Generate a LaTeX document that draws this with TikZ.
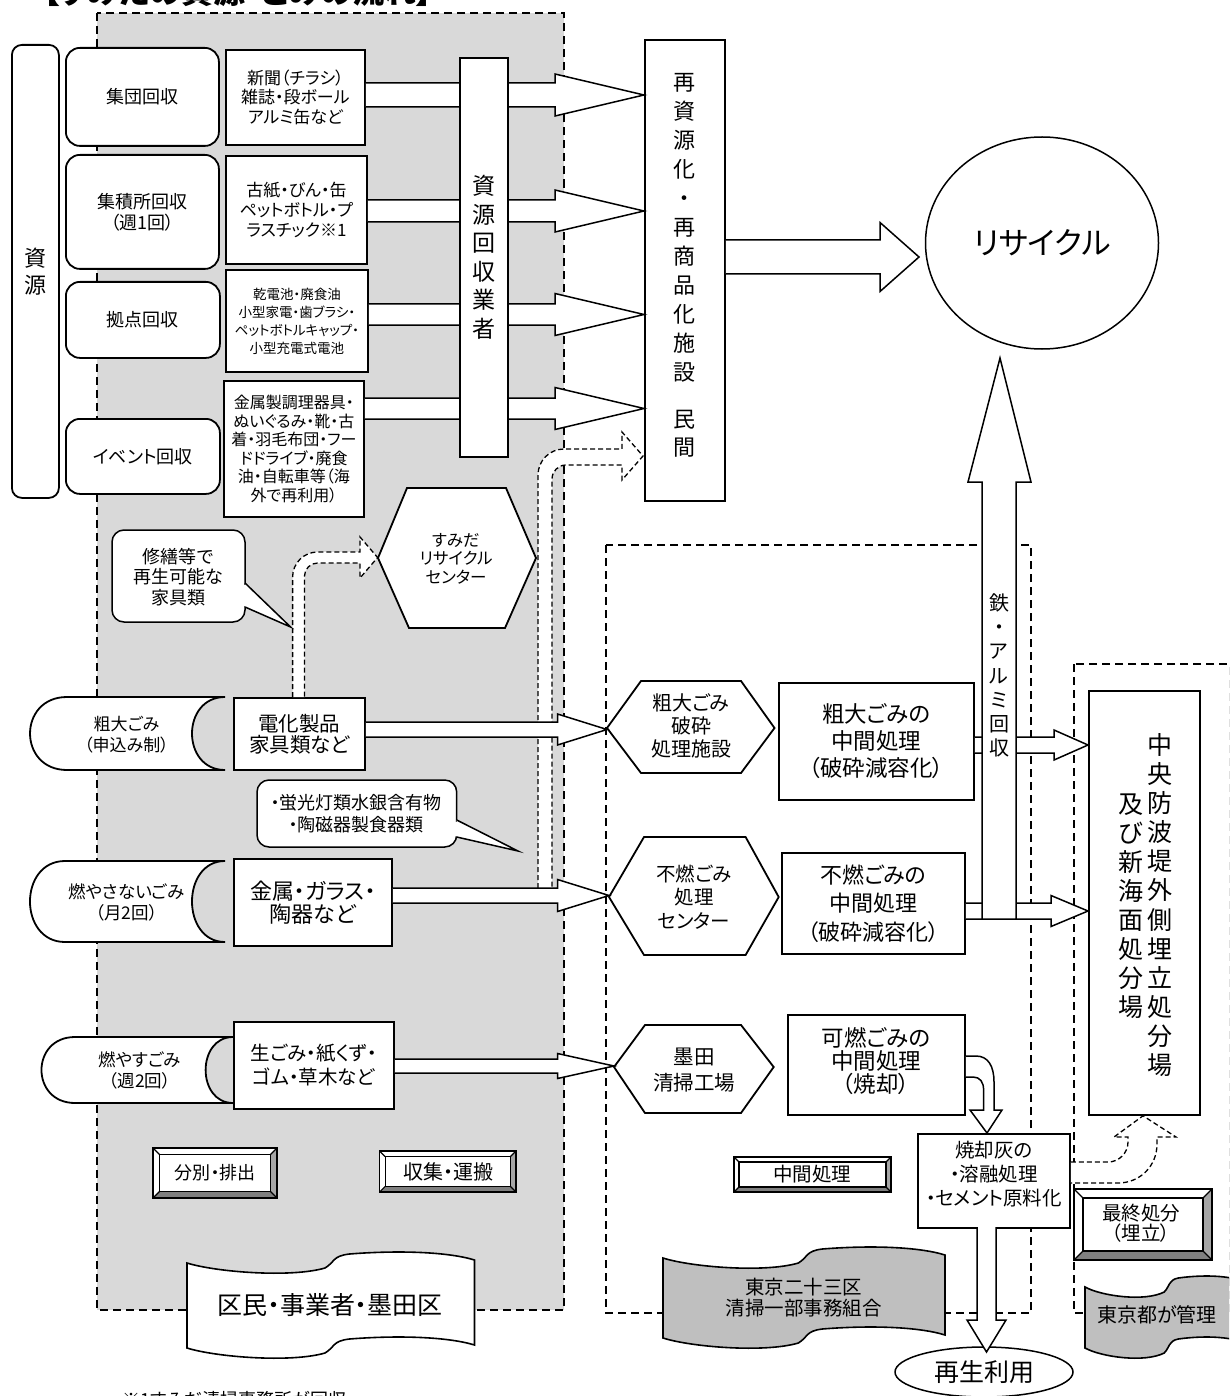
\documentclass[tikz,border=0pt]{standalone}
\usepackage{fontspec}
\setmainfont{Noto Sans CJK JP}[RawFeature=+palt]
\usetikzlibrary{shapes.geometric,calc}
\definecolor{regiongray}{HTML}{D9D9D9}
\definecolor{bannergray}{HTML}{BFBFBF}
\definecolor{bevdark}{HTML}{7F7F7F}
\definecolor{bevmid}{HTML}{A6A6A6}
\newcommand{\jfs}[2]{\fontsize{#1}{#2}\selectfont}
% block arrow to the right: #1 start anchor, #2 tip anchor, #3 shaft top y, #4 shaft bottom y, #5 head base x, #6 head half height
\newcommand{\blockR}[6]{%
  \pgfmathsetmacro{\bkmid}{(#3+#4)/2}%
  \pgfmathsetmacro{\bktop}{\bkmid-#6}%
  \pgfmathsetmacro{\bkbot}{\bkmid+#6}%
  \draw[harrow] (#1 |- 0,#3) -- (#5,#3) -- (#5,\bktop) -- (#2 |- 0,\bkmid) -- (#5,\bkbot) -- (#5,#4) -- (#1 |- 0,#4);%
}
\newcommand{\bevelbtn}[5]{%
  \pgfmathsetmacro{\bvA}{#1+#5}\pgfmathsetmacro{\bvB}{#2+#5}%
  \pgfmathsetmacro{\bvC}{#3-#5}\pgfmathsetmacro{\bvD}{#4-#5}%
  \fill[white] (#1,#2) rectangle (#3,#4);
  \fill[bevmid] (#3,#2) -- (\bvC,\bvB) -- (\bvC,\bvD) -- (#3,#4) -- cycle;
  \fill[bevdark] (#1,#4) -- (\bvA,\bvD) -- (\bvC,\bvD) -- (#3,#4) -- cycle;
  \draw[btnline] (#1,#2) rectangle (#3,#4);
  \draw[btnline] (\bvA,\bvB) rectangle (\bvC,\bvD);
  \draw[btnline] (#1,#2) -- (\bvA,\bvB) (#3,#2) -- (\bvC,\bvB) (#1,#4) -- (\bvA,\bvD) (#3,#4) -- (\bvC,\bvD);
}
\newcommand{\wavebanner}[5]{%
  \begin{scope}[shift={(#1,#2)}, xscale=#3/100]
  \draw[line width=1.6pt, fill=#5] (0,0) .. controls (10,9) and (36,15) .. (48,5) .. controls (51.5,-1) and (50.5,-7) .. (56.5,-9) .. controls (74,-13) and (91,-11) .. (100,-3) -- (100,#4-3) .. controls (91,#4-11) and (74,#4-13) .. (56.5,#4-9) .. controls (50.5,#4-7) and (51.5,#4-1) .. (48,#4+5) .. controls (36,#4+15) and (10,#4+9) .. (0,#4) -- cycle;
  \end{scope}%
}
\begin{document}
\begin{tikzpicture}[x=1pt,y=-1pt,
  boxln/.style={draw=black, line width=1.8pt, fill=white, inner sep=0pt, align=center},
  rbox/.style={boxln, rounded corners=14pt},
  harrow/.style={draw=black, line width=1.5pt, fill=white, line join=miter},
  dhollow/.style={draw=black, line width=1.3pt, fill=white, dash pattern=on 5pt off 3pt},
  regionln/.style={draw=black, line width=2pt, dash pattern=on 8pt off 5pt},
  shapeln/.style={draw=black, line width=1.8pt, fill=white},
  txt/.style={inner sep=0pt, align=center},
  btnline/.style={draw=black, line width=1.2pt},
]
\useasboundingbox (0,0) rectangle (1229,1396);
\clip (0,0) rectangle (1229,1396);

% ---------- regions ----------
\fill[regiongray] (97,13) rectangle (563.5,1310);
\draw[regionln] (97,13) rectangle (563.5,1310);
\draw[regionln] (606,545) rectangle (1031,1313);
\draw[regionln] (1074,664) rectangle (1229.5,1313);

% ---------- title / note ----------
\node[txt, font=\bfseries\jfs{32}{32}, anchor=west] (title) at (43,-9) {【すみだの資源・ごみの流れ】};
\node[txt, font=\jfs{18}{18}, anchor=west] (note) at (122.6,1400) {※1すみだ清掃事務所が回収};

% ---------- left column ----------
\node[boxln, rounded corners=10pt, minimum width=47, minimum height=453, anchor=north west, font=\jfs{22}{27}] (shigen) at (11,44) {資\\源};
\node[rbox, minimum width=153, minimum height=98, anchor=north west, font=\jfs{18}{22}] (r1) at (65,47) {集団回収};
\node[rbox, minimum width=153, minimum height=114, anchor=north west, font=\jfs{18}{21}] (r2) at (65,154) {集積所回収\\（週1回）};
\node[rbox, minimum width=154, minimum height=76, anchor=north west, font=\jfs{18}{22}] (r3) at (65,281) {拠点回収};
\node[rbox, minimum width=154, minimum height=75, anchor=north west, font=\jfs{18}{22}] (r4) at (65,418) {イベント回収};

\node[boxln, minimum width=139, minimum height=95, anchor=north west, font=\jfs{17}{19.5}] (i1) at (225,49) {新聞（チラシ）\\雑誌・段ボール\\アルミ缶など};
\node[boxln, minimum width=141, minimum height=108, anchor=north west, font=\jfs{17}{20}] (i2) at (225,155) {古紙・びん・缶\\ペットボトル・プ\\ラスチック※1};
\node[boxln, minimum width=142, minimum height=102, anchor=north west, font=\jfs{13.5}{18}] (i3) at (225,269) {乾電池・廃食油\\小型家電・歯ブラシ・\\ペットボトルキャップ・\\小型充電式電池};
\node[boxln, minimum width=140, minimum height=136, anchor=north west, font=\jfs{16}{18.5}] (i4) at (223,380) {金属製調理器具・\\ぬいぐるみ・靴・古\\着・羽毛布団・フー\\ドドライブ・廃食\\油・自転車等（海\\外で再利用）};

% ---------- stored data shapes ----------
\draw[shapeln] (67,697) -- (225,697) .. controls (181,697) and (181,770) .. (225,770) -- (67,770) .. controls (17.7,770) and (17.7,697) .. (67,697) -- cycle;
\node[txt, font=\jfs{17}{21}] (sd1) at (126.5,734.5) {粗大ごみ\\（申込み制）};
\draw[shapeln] (65,861) -- (225,861) .. controls (181,861) and (181,942) .. (225,942) -- (65,942) .. controls (18.3,942) and (18.3,861) .. (65,861) -- cycle;
\node[txt, font=\jfs{17.5}{21}] (sd2) at (126.5,902.5) {燃やさないごみ\\（月2回）};
\draw[shapeln] (75,1037) -- (233,1037) .. controls (196.5,1037) and (196.5,1103) .. (233,1103) -- (75,1103) .. controls (30.3,1103) and (30.3,1037) .. (75,1037) -- cycle;
\node[txt, font=\jfs{17.5}{21}] (sd3) at (140,1070) {燃やすごみ\\（週2回）};

\node[boxln, minimum width=131, minimum height=72, anchor=north west, font=\jfs{20.5}{21}] (e1) at (233,697) {電化製品\\家具類など};
\node[boxln, minimum width=158, minimum height=87, anchor=north west, font=\jfs{22}{23.5}] (e2) at (233,858) {金属・ガラス・\\陶器など};
\node[boxln, minimum width=160, minimum height=87, anchor=north west, font=\jfs{19.5}{24}] (e3) at (233,1021) {生ごみ・紙くず・\\ゴム・草木など};

% ---------- dashed hollow arrows ----------
\draw[dhollow] (e1.north -| 292.6,0) -- (292.6,577) .. controls (292.6,563.2) and (303.8,552) .. (317.6,552) -- (360,552) -- (360,537) -- (377.6,557.5) -- (360,578) -- (360,563) -- (317.6,563) .. controls (310.5,563) and (304.5,568.8) .. (304.5,575.9) -- (e1.north -| 304.5,0);
\draw[dhollow] (538,888) -- (538,475) .. controls (538,460.6) and (549.6,449) .. (564,449) -- (622,449) -- (622,432) -- (643,456) -- (622,480) -- (622,465) -- (566,465) .. controls (558.3,465) and (552,471.3) .. (552,479) -- (552,888);

% ---------- callouts ----------
\draw[shapeln, line width=1.5pt, rounded corners=12pt] (112,530) rectangle (245,622);
\fill[white] (243,584.5) rectangle (247,605.5);
\draw[line width=1.5pt, fill=white] (245,583) -- (290.6,627) -- (245,607);
\node[txt, font=\jfs{18}{20.5}] (co1) at (178,577) {修繕等で\\再生可能な\\家具類};
\draw[shapeln, line width=1.5pt, rounded corners=12pt] (257,780) rectangle (456.7,847);
\fill[white] (455,821.5) rectangle (459,835.5);
\draw[line width=1.5pt, fill=white] (456.7,820) -- (518,851) -- (456.7,837);
\node[txt, font=\jfs{18}{22}] (co2) at (356,814) {・蛍光灯類水銀含有物\\・陶磁器製食器類};

% ---------- recycling facility ----------
\node[boxln, minimum width=80, minimum height=461, anchor=north west] (saishigen) at (644,39) {};
\node[txt, font=\jfs{22}{29}] (ssTxt1) at (684,228) {再\\資\\源\\化\\・\\再\\商\\品\\化\\施\\設};
\node[txt, font=\jfs{22}{28}] (ssTxt2) at (684,434) {民\\間};

\blockR{i1.east}{saishigen.west}{83}{107}{555}{21}
\blockR{i2.east}{saishigen.west}{200}{222}{555}{21}
\blockR{i3.east}{saishigen.west}{304}{325}{555}{21}
\blockR{i4.east}{saishigen.west}{398}{419}{555}{21}

\node[boxln, minimum width=48, minimum height=399, anchor=north west, font=\jfs{23}{28.5}] (gyosha) at (459,57) {資\\源\\回\\収\\業\\者};

\node[draw=black, line width=1.5pt, ellipse, minimum width=233, minimum height=212, inner sep=0pt, font=\jfs{31}{31}] (recycle) at (1042,243) {リサイクル};
\coordinate (rcin) at (919,257);
\blockR{saishigen.east}{rcin}{240}{274}{880}{34.5}

% ---------- hexagons ----------
\draw[shapeln] (378,558) -- (407,488) -- (506,488) -- (536,558) -- (505,628) -- (409,628) -- cycle;
\node[txt, font=\jfs{16.5}{18.5}] (sumida) at (456,558.5) {すみだ\\リサイクル\\センター};

\draw[shapeln] (607,728) -- (641,681) -- (741,681) -- (774.5,728) -- (741,773) -- (641,773) -- cycle;
\coordinate (hx1w) at (607,728);
\node[txt, font=\jfs{20}{23}] (hx1) at (691,726) {粗大ごみ\\破砕\\処理施設};
\draw[shapeln] (609,897) -- (644,837) -- (745.6,837) -- (778.7,897) -- (745.6,955) -- (644,955) -- cycle;
\coordinate (hx2w) at (609,897);
\node[txt, font=\jfs{19.5}{23.5}] (hx2) at (694,897) {不燃ごみ\\処理\\センター};
\draw[shapeln] (614,1067) -- (645,1025) -- (741,1025) -- (773.7,1067) -- (741,1113) -- (645,1113) -- cycle;
\coordinate (hx3w) at (614,1067);
\node[txt, font=\jfs{20.5}{26}] (hx3) at (694,1070) {墨田\\清掃工場};

\blockR{e1.east}{hx1w}{722}{737}{557.5}{15.5}
\blockR{e2.east}{hx2w}{888}{903}{557.5}{16}
\blockR{e3.east}{hx3w}{1059}{1073}{557.5}{12.5}

% ---------- intermediate processing ----------
\node[boxln, minimum width=195, minimum height=117, anchor=north west, font=\jfs{22.5}{27}] (m1) at (778,682) {粗大ごみの\\中間処理\\（破砕減容化）};
\node[boxln, minimum width=183, minimum height=101, anchor=north west, font=\jfs{22}{28.5}] (m2) at (781,852) {不燃ごみの\\中間処理\\（破砕減容化）};
\node[boxln, minimum width=177, minimum height=100, anchor=north west] (m3) at (787,1014) {};
\node[txt, font=\jfs{22.5}{23}] (m3t) at (876,1061) {可燃ごみの\\中間処理\\（焼却）};

\node[boxln, minimum width=111, minimum height=424, anchor=north west] (chuo) at (1088,690) {};
\node[txt, font=\jfs{25}{29.1}] (chuoR) at (1159.5,905) {中\\央\\防\\波\\堤\\外\\側\\埋\\立\\処\\分\\場};
\node[txt, font=\jfs{25}{29}] (chuoL) at (1130.5,906) {及\\び\\新\\海\\面\\処\\分\\場};

\blockR{m1.east}{chuo.west}{737}{753}{1054}{15}
\blockR{m2.east}{chuo.west}{903}{919}{1051}{15.5}

\coordinate (upTip) at (1000,358);
\draw[harrow] (982,919) -- (982,482) -- (968,482) -- (upTip) -- (1031,482) -- (1016,482) -- (1016,919) -- cycle;
\node[txt, font=\jfs{20}{24.2}] (fe) at (999,675.5) {鉄\\・\\ア\\ル\\ミ\\回\\収};

% ---------- ash ----------
\coordinate (ashTip) at (987,1133);
\draw[harrow] (m3.east |- 0,1056) -- (976,1056) .. controls (988,1056) and (994,1066) .. (994,1082) -- (994,1110) -- (1002,1110) -- (ashTip) -- (970,1110) -- (983.6,1110) -- (983.6,1090) .. controls (983.6,1082) and (980,1077) .. (973,1077) -- (m3.east |- 0,1077);
\node[boxln, minimum width=152, minimum height=94, anchor=north west] (ash) at (917,1133) {};
\node[txt, font=\jfs{19.5}{24}] (asht) at (994,1174) {焼却灰の\\・溶融処理\\・セメント原料化};

\node[draw=black, line width=1.5pt, ellipse, fill=white, minimum width=178, minimum height=50, inner sep=0pt, font=\jfs{25}{25}] (saisei) at (984,1372) {再生利用};
\coordinate (saiseiTip) at (986.5,1352);
\draw[harrow] (977,1227) -- (977,1320) -- (967,1320) -- (saiseiTip) -- (1006,1320) -- (996,1320) -- (996,1227);

\draw[dhollow] (ash.east |- 0,1162) -- (1108,1162) .. controls (1119,1162) and (1128,1153) .. (1128,1142) -- (1128,1137) -- (1114,1137) -- (chuo.south -| 1143,0) -- (1176,1137) -- (1157,1137) -- (1157,1144) .. controls (1157,1166) and (1140,1183) .. (1118,1183) -- (ash.east |- 0,1183);

% ---------- buttons ----------
\bevelbtn{153}{1148}{277}{1198}{6.5}
\node[txt, font=\jfs{18}{18}] (b1) at (215,1173) {分別・排出};
\bevelbtn{379.6}{1151}{516}{1192}{5.5}
\node[txt, font=\jfs{20}{20}] (b2) at (448,1171.5) {収集・運搬};
\bevelbtn{734}{1157}{891}{1192}{5}
\node[txt, font=\jfs{19.5}{19.5}] (b3) at (812,1174.5) {中間処理};
\bevelbtn{1074}{1189}{1212}{1260}{9}
\node[txt, font=\jfs{19.5}{20.5}] (b4) at (1141,1223) {最終処分\\（埋立）};

% ---------- banners ----------
\wavebanner{187}{1263}{287.5}{85}{white}
\node[txt, font=\jfs{25}{25}] (bn1) at (330,1305) {区民・事業者・墨田区};
\wavebanner{663}{1258}{282}{80}{bannergray}
\node[txt, font=\jfs{19.5}{21}] (bn2) at (803.5,1297.5) {東京二十三区\\清掃一部事務組合};
\wavebanner{1085}{1287}{165}{61}{bannergray}
\node[txt, font=\jfs{20}{20}] (bn3) at (1157,1315) {東京都が管理};

\end{tikzpicture}
\end{document}
